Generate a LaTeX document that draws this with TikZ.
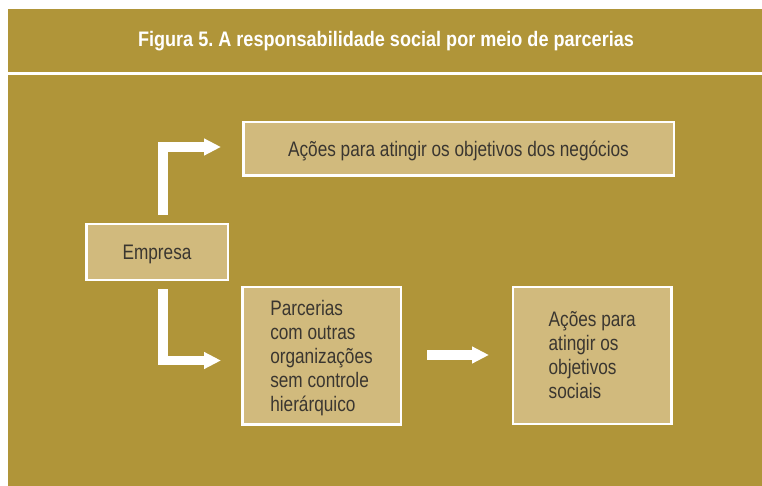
\documentclass[tikz,border=0pt]{standalone}
\usepackage{fontspec}
\newfontfamily\bodyfont{Liberation Sans}[FakeStretch=0.82]
\newfontfamily\titlefont{Liberation Sans Bold}[FakeStretch=0.86]
\usetikzlibrary{arrows.meta}
\definecolor{gold}{RGB}{176,149,57}
\definecolor{boxfill}{RGB}{209,186,125}
\definecolor{ink}{RGB}{58,54,48}
\frenchspacing
\begin{document}
\begin{tikzpicture}[x=1pt,y=-1pt,
  box/.style={draw=white,line width=2.5pt,fill=boxfill,text=ink,
    font=\bodyfont\fontsize{21}{24}\selectfont,
    text height=15pt,text depth=0pt,inner sep=0pt,align=left},
  flow/.style={draw=white,line width=9.5pt,line join=miter,
    -{Triangle[length=17pt,width=16pt]}}]
\useasboundingbox (0,0) rectangle (762,486);
\fill[gold] (8,9) rectangle (762,486);
\draw[white,line width=3pt] (8,73.5) -- (762,73.5);
\node[text=white,font=\titlefont\fontsize{21}{24}\selectfont,
  text height=15.3pt,text depth=0pt,inner sep=0pt] (title) at (386,38.4)
  {Figura 5. A responsabilidade social por meio de parcerias};
\node[box,minimum width=430.5pt,minimum height=53.8pt] (obj) at (458.5,148.8)
  {Ações para atingir os objetivos dos negócios};
\node[box,minimum width=141.5pt,minimum height=55.5pt] (emp) at (157,252)
  {Empresa};
\node[box,text height=111pt,minimum width=158.5pt,minimum height=137.5pt] (parc) at (321.5,355.5)
  {Parcerias\\com outras\\organizações\\sem controle\\hierárquico};
\node[box,text height=87pt,minimum width=158.5pt,minimum height=136.8pt] (soc) at (592.2,355.4)
  {Ações para\\atingir os\\objetivos\\sociais};
\coordinate (u0) at (163,215);
\coordinate (u1) at (221,147);
\coordinate (d0) at (163,289);
\coordinate (d1) at (221,360.5);
\coordinate (m0) at (427,355);
\coordinate (m1) at (489,355);
\draw[flow] (u0) |- (u1);
\draw[flow] (d0) |- (d1);
\draw[flow] (m0) -- (m1);
\end{tikzpicture}
\end{document}
